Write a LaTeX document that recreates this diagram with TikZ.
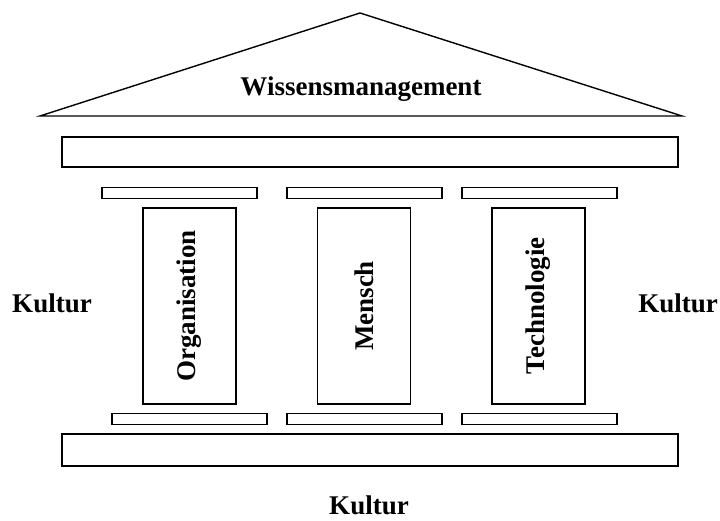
\documentclass[tikz,border=0pt]{standalone}
\usepackage{fontspec}
\setmainfont{Liberation Serif}
\usepackage{tikz}
\newcommand*{\balkenbr }{616pt}
\newcommand*{\kapbr    }{155pt}
\newcommand*{\saeulebr }{93pt}
\newcommand*{\saeuleht }{196pt}
\newcommand*{\schrift  }{\fontsize{27}{32}\selectfont\bfseries}
\tikzset{
    balken/.style   = {draw, line width=1.4pt, inner sep=0pt, minimum width=\balkenbr},
    kapitell/.style = {draw, line width=1.4pt, inner sep=0pt, minimum width=\kapbr, minimum height=10.5pt},
    saeule/.style   = {draw, line width=1.4pt, inner sep=0pt, rotate=90, minimum width=\saeuleht, minimum height=\saeulebr},
    beschr/.style   = {font=\schrift, inner sep=0pt}
}

\begin{document}
\begin{tikzpicture}[x=1pt, y=1pt]
    \useasboundingbox (0,0) rectangle (720,521);
        % Dach
        \coordinate (dachl) at ( 40,405);
        \coordinate (dachr) at (682,405);
        \coordinate (first) at (360,508);
        \draw [line width=1.4pt, line join=miter] (dachl) -- (first) -- (dachr) -- cycle;
        \node [beschr] (wissen) at (361,432) {Wissensmanagement};
        % Architrav und Fundament
        \node [balken, minimum height=30pt] (architrav) at (370,369) {};
        \node [balken, minimum height=32pt] (fundament) at (370, 71) {};
        % Kapitelle
        \node [kapitell] (kapo) at (179.5,328) {};
        \node [kapitell] (kapm) at (364.5,328) {};
        \node [kapitell] (kapt) at (539.5,328) {};
        % Saeulen
        \node [saeule, beschr, draw, inner sep=0pt] (org)  at (189.5,215) {Organisation};
        \node [saeule, beschr, draw, inner sep=0pt] (mens) at (364  ,215) {Mensch};
        \node [saeule, beschr, draw, inner sep=0pt] (tech) at (538.5,215) {Technologie};
        % Basen
        \node [kapitell] (baso) at (189.5,102) {};
        \node [kapitell] (basm) at (364.5,102) {};
        \node [kapitell] (bast) at (539.5,102) {};
        % Kultur
        \node [beschr] (kulturl) at ( 52,218) {Kultur};
        \node [beschr] (kulturr) at (678,218) {Kultur};
        \node [beschr] (kulturu) at (369, 16) {Kultur};
    \end{tikzpicture}
\end{document}
